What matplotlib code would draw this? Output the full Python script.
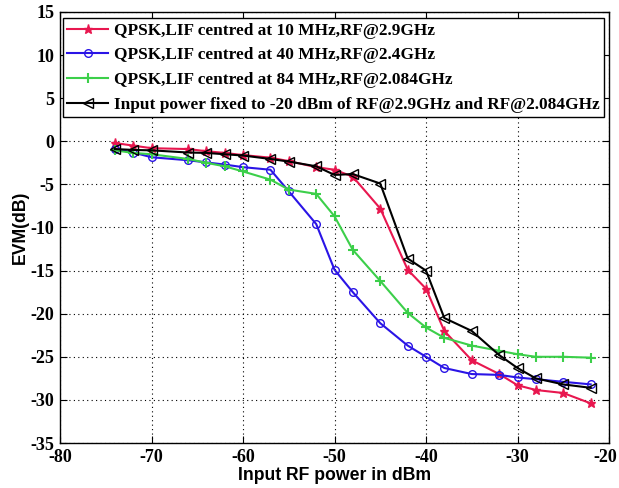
import matplotlib
matplotlib.use("Agg")
import matplotlib.pyplot as plt
from matplotlib.transforms import ScaledTranslation

plt.rcParams["axes.unicode_minus"] = False

# input RF power (dBm), shared by all four sweeps
power = [-74, -72, -70, -66, -64, -62, -60, -57, -55, -52, -50, -48,
         -45, -42, -40, -38, -35, -32, -30, -28, -25, -22]

evm_10mhz = [-0.2, -0.5, -0.8, -0.9, -1.15, -1.35, -1.6, -1.9, -2.3, -3.0, -3.3, -4.1,
             -7.8, -14.9, -17.1, -22.0, -25.4, -27.0, -28.3, -28.85, -29.2, -30.4]
evm_40mhz = [-0.9, -1.3, -1.85, -2.2, -2.45, -2.7, -3.0, -3.3, -5.8, -9.6, -14.9, -17.5,
             -21.1, -23.7, -25.0, -26.3, -27.0, -27.1, -27.4, -27.6, -27.9, -28.2]
evm_84mhz = [-1.05, -1.35, -1.5, -2.05, -2.5, -2.9, -3.5, -4.45, -5.6, -6.1, -8.7, -12.6,
             -16.2, -19.9, -21.6, -22.8, -23.7, -24.3, -24.7, -25.0, -25.0, -25.1]
evm_fixed = [-0.9, -1.0, -1.05, -1.3, -1.35, -1.5, -1.65, -2.05, -2.35, -2.9, -3.9, -3.8,
             -4.9, -13.6, -15.0, -20.5, -22.0, -24.8, -26.3, -27.5, -28.2, -28.6]

labels = ["QPSK,LIF centred at 10 MHz,RF@2.9GHz",
          "QPSK,LIF centred at 40 MHz,RF@2.4GHz",
          "QPSK,LIF centred at 84 MHz,RF@2.084GHz",
          "Input power fixed to -20 dBm of RF@2.9GHz and RF@2.084GHz"]

fig = plt.figure(figsize=(6.19, 4.88), dpi=100)
ax = fig.add_axes([60 / 619, 1 - 443 / 488, 549 / 619, 431 / 488])

ax.plot(power, evm_10mhz, color="#e8174f", marker="*", markersize=6.5, lw=1.5, label=labels[0])
ax.plot(power, evm_40mhz, color="#2a14e6", marker="o", markersize=5.5, mfc="none", lw=1.5, label=labels[1])
ax.plot(power, evm_84mhz, color="#3ccf4a", marker="+", markersize=7, mew=1.5, lw=1.5, label=labels[2])
ax.plot(power, evm_fixed, color="black", marker="<", markersize=6.5, mfc="none", lw=1.5, label=labels[3])

ax.set_xlim(-80, -20)
ax.set_ylim(-35, 15)
ax.set_xticks(range(-80, -19, 10))
ax.set_yticks(range(-35, 16, 5))
ax.grid(True, color="black", linestyle=(0, (1, 3)), linewidth=0.8)
ax.tick_params(direction="in", length=5, top=True, right=True, pad=4)
for lab in ax.get_xticklabels() + ax.get_yticklabels():
    lab.set_fontfamily("Liberation Serif")
    lab.set_fontweight("bold")
    lab.set_fontsize(13)
# keep the last x label inside the figure
last = ax.get_xticklabels()[-1]
last.set_transform(last.get_transform() + ScaledTranslation(-0.04, 0, fig.dpi_scale_trans))
for s in ax.spines.values():
    s.set_linewidth(1.0)

ax.set_xlabel("Input RF power in dBm", fontfamily="Liberation Sans", fontweight="bold", fontsize=12.7, labelpad=1)
ax.set_ylabel("EVM(dB)", fontfamily="Liberation Sans", fontweight="bold", fontsize=12.7, labelpad=1)

leg = ax.legend(loc="upper left", bbox_to_anchor=(0.005, 0.985), prop={"family": "Liberation Serif", "weight": "bold", "size": 12.4},
                fancybox=False, framealpha=1, edgecolor="black", handlelength=2.4, handletextpad=0.3,
                borderaxespad=0, labelspacing=0.5, borderpad=0.25)
leg.get_frame().set_linewidth(1.0)

fig.savefig("out.png", dpi=100)
